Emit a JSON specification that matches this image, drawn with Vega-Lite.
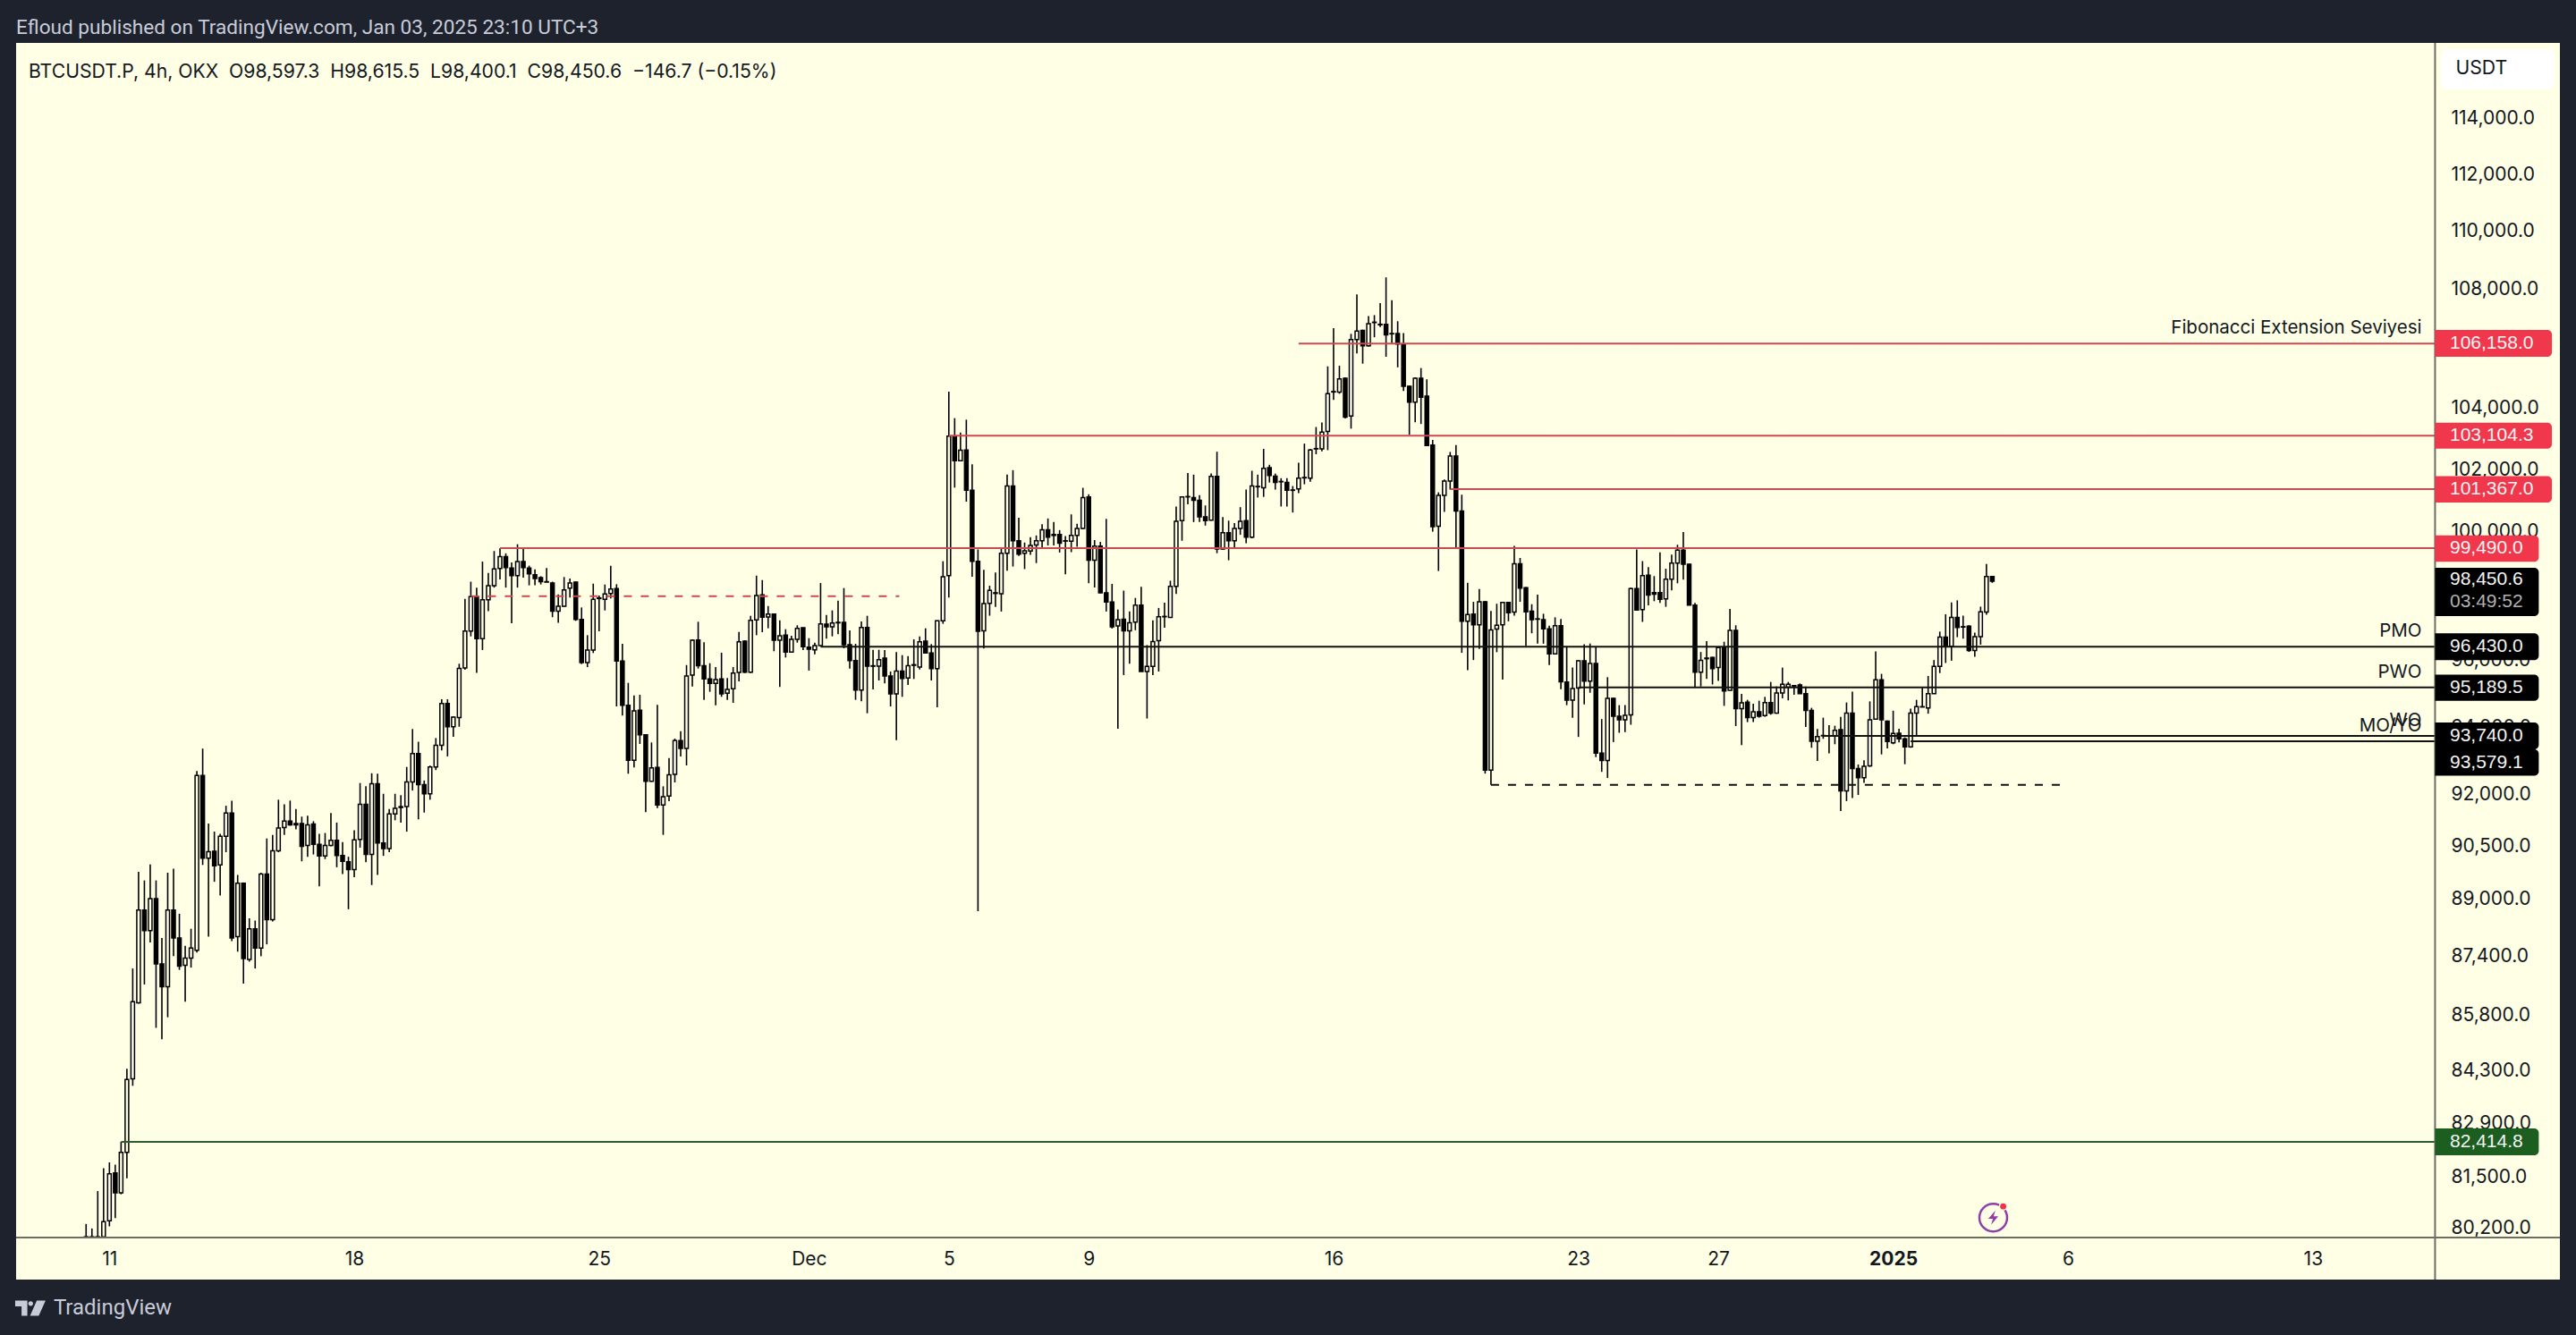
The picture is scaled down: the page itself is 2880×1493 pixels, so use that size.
{
  "$schema": "https://vega.github.io/schema/vega-lite/v6.json",
  "autosize": {"type": "none"},
  "width": 2844,
  "height": 1383,
  "padding": {"left": 18, "top": 48, "right": 18, "bottom": 62},
  "background": "#1e222d",
  "title": {"text": "Efloud published on TradingView.com, Jan 03, 2025 23:10 UTC+3", "anchor": "start", "frame": "group", "offset": 4, "font": "Roboto", "fontSize": 22.6, "fontWeight": "normal", "color": "#c8ccd8"},
  "config": {"font": "Inter", "view": {"fill": "#ffffe6", "stroke": null}},
  "datasets": {
    "candles": [
      {"t":"2024-11-10T08:00Z","o":79970,"h":80295,"l":79950,"c":79960},
      {"t":"2024-11-10T12:00Z","o":79970,"h":80180,"l":79950,"c":79960},
      {"t":"2024-11-10T16:00Z","o":79970,"h":81137,"l":79950,"c":79960},
      {"t":"2024-11-10T20:00Z","o":79970,"h":81725,"l":79950,"c":80352},
      {"t":"2024-11-11T00:00Z","o":80375,"h":81879,"l":80235,"c":81582},
      {"t":"2024-11-11T04:00Z","o":81606,"h":81820,"l":80446,"c":81090},
      {"t":"2024-11-11T08:00Z","o":81090,"h":82414,"l":81055,"c":82141},
      {"t":"2024-11-11T12:00Z","o":82141,"h":84344,"l":81464,"c":84063},
      {"t":"2024-11-11T16:00Z","o":84075,"h":87072,"l":83892,"c":86157},
      {"t":"2024-11-11T20:00Z","o":86132,"h":89784,"l":86107,"c":88699},
      {"t":"2024-11-12T00:00Z","o":88699,"h":89538,"l":86632,"c":88124},
      {"t":"2024-11-12T04:00Z","o":88124,"h":89992,"l":87792,"c":89020},
      {"t":"2024-11-12T08:00Z","o":89020,"h":89538,"l":85449,"c":87198},
      {"t":"2024-11-12T12:00Z","o":87198,"h":87920,"l":85139,"c":86569},
      {"t":"2024-11-12T16:00Z","o":86569,"h":89758,"l":85735,"c":88699},
      {"t":"2024-11-12T20:00Z","o":88699,"h":89875,"l":87412,"c":87920},
      {"t":"2024-11-13T00:00Z","o":87920,"h":88597,"l":87034,"c":87135},
      {"t":"2024-11-13T04:00Z","o":87160,"h":87703,"l":86157,"c":87362},
      {"t":"2024-11-13T08:00Z","o":87362,"h":88175,"l":87097,"c":87639},
      {"t":"2024-11-13T12:00Z","o":87576,"h":92700,"l":87513,"c":92566},
      {"t":"2024-11-13T16:00Z","o":92566,"h":93361,"l":89979,"c":90173},
      {"t":"2024-11-13T20:00Z","o":90173,"h":91171,"l":87958,"c":90357},
      {"t":"2024-11-14T00:00Z","o":90370,"h":90935,"l":89500,"c":89953},
      {"t":"2024-11-14T04:00Z","o":89979,"h":90869,"l":89110,"c":90803},
      {"t":"2024-11-14T08:00Z","o":90803,"h":91684,"l":90343,"c":91473},
      {"t":"2024-11-14T12:00Z","o":91473,"h":91833,"l":87830,"c":87920},
      {"t":"2024-11-14T16:00Z","o":87958,"h":89694,"l":87537,"c":89460},
      {"t":"2024-11-14T20:00Z","o":89460,"h":89480,"l":86657,"c":87349},
      {"t":"2024-11-15T00:00Z","o":87324,"h":88469,"l":87261,"c":88175},
      {"t":"2024-11-15T04:00Z","o":88175,"h":88405,"l":87072,"c":87639},
      {"t":"2024-11-15T08:00Z","o":87639,"h":89758,"l":87412,"c":89720},
      {"t":"2024-11-15T12:00Z","o":89720,"h":90737,"l":87741,"c":88431},
      {"t":"2024-11-15T16:00Z","o":88431,"h":90842,"l":88380,"c":90383},
      {"t":"2024-11-15T20:00Z","o":90383,"h":91860,"l":90343,"c":91040},
      {"t":"2024-11-16T00:00Z","o":91053,"h":91726,"l":90842,"c":91237},
      {"t":"2024-11-16T04:00Z","o":91237,"h":91833,"l":91106,"c":91132},
      {"t":"2024-11-16T08:00Z","o":91171,"h":91592,"l":91000,"c":91132},
      {"t":"2024-11-16T12:00Z","o":91171,"h":91368,"l":90082,"c":90514},
      {"t":"2024-11-16T16:00Z","o":90540,"h":91394,"l":90212,"c":91132},
      {"t":"2024-11-16T20:00Z","o":91158,"h":91237,"l":90278,"c":90566},
      {"t":"2024-11-17T00:00Z","o":90566,"h":90869,"l":89370,"c":90238},
      {"t":"2024-11-17T04:00Z","o":90238,"h":90895,"l":90147,"c":90540},
      {"t":"2024-11-17T08:00Z","o":90540,"h":91473,"l":90514,"c":90685},
      {"t":"2024-11-17T12:00Z","o":90685,"h":91197,"l":89914,"c":90251},
      {"t":"2024-11-17T16:00Z","o":90251,"h":90633,"l":89720,"c":90082},
      {"t":"2024-11-17T20:00Z","o":90069,"h":90212,"l":88724,"c":89849},
      {"t":"2024-11-18T00:00Z","o":89849,"h":90974,"l":89629,"c":90698},
      {"t":"2024-11-18T04:00Z","o":90711,"h":92347,"l":90475,"c":91726},
      {"t":"2024-11-18T08:00Z","o":91726,"h":92253,"l":90056,"c":90278},
      {"t":"2024-11-18T12:00Z","o":90278,"h":92633,"l":89408,"c":92326},
      {"t":"2024-11-18T16:00Z","o":92326,"h":92620,"l":89694,"c":90606},
      {"t":"2024-11-18T20:00Z","o":90606,"h":92033,"l":90238,"c":90448},
      {"t":"2024-11-19T00:00Z","o":90448,"h":91592,"l":90343,"c":91447},
      {"t":"2024-11-19T04:00Z","o":91447,"h":92033,"l":91263,"c":91606},
      {"t":"2024-11-19T08:00Z","o":91633,"h":91993,"l":91197,"c":91659},
      {"t":"2024-11-19T12:00Z","o":91659,"h":92820,"l":90935,"c":92380},
      {"t":"2024-11-19T16:00Z","o":92380,"h":93943,"l":92126,"c":93215},
      {"t":"2024-11-19T20:00Z","o":93215,"h":93564,"l":91289,"c":92300},
      {"t":"2024-11-20T00:00Z","o":92300,"h":92420,"l":91486,"c":92033},
      {"t":"2024-11-20T04:00Z","o":92033,"h":92860,"l":91860,"c":92820},
      {"t":"2024-11-20T08:00Z","o":92820,"h":93673,"l":92727,"c":93456},
      {"t":"2024-11-20T12:00Z","o":93456,"h":94832,"l":93307,"c":94708},
      {"t":"2024-11-20T16:00Z","o":94708,"h":94832,"l":93131,"c":94011},
      {"t":"2024-11-20T20:00Z","o":94011,"h":94323,"l":93713,"c":94296},
      {"t":"2024-11-21T00:00Z","o":94282,"h":95907,"l":94011,"c":95768},
      {"t":"2024-11-21T04:00Z","o":95782,"h":97898,"l":95726,"c":96910},
      {"t":"2024-11-21T08:00Z","o":96910,"h":98436,"l":96743,"c":97969},
      {"t":"2024-11-21T12:00Z","o":97969,"h":98252,"l":95629,"c":96674},
      {"t":"2024-11-21T16:00Z","o":96674,"h":99065,"l":96325,"c":97870},
      {"t":"2024-11-21T20:00Z","o":97870,"h":98709,"l":97517,"c":98308},
      {"t":"2024-11-22T00:00Z","o":98308,"h":99397,"l":98252,"c":98838},
      {"t":"2024-11-22T04:00Z","o":98852,"h":99483,"l":98508,"c":99225},
      {"t":"2024-11-22T08:00Z","o":99225,"h":99325,"l":98252,"c":98880},
      {"t":"2024-11-22T12:00Z","o":98866,"h":99036,"l":97150,"c":98623},
      {"t":"2024-11-22T16:00Z","o":98623,"h":99612,"l":98252,"c":99065},
      {"t":"2024-11-22T20:00Z","o":99065,"h":99468,"l":98565,"c":98880},
      {"t":"2024-11-23T00:00Z","o":98866,"h":98938,"l":98322,"c":98680},
      {"t":"2024-11-23T04:00Z","o":98651,"h":98823,"l":98322,"c":98537},
      {"t":"2024-11-23T08:00Z","o":98565,"h":98608,"l":98350,"c":98436},
      {"t":"2024-11-23T12:00Z","o":98436,"h":98866,"l":98422,"c":98422},
      {"t":"2024-11-23T16:00Z","o":98393,"h":98436,"l":97334,"c":97517},
      {"t":"2024-11-23T20:00Z","o":97517,"h":98040,"l":97164,"c":97672},
      {"t":"2024-11-24T00:00Z","o":97672,"h":98580,"l":97658,"c":98181},
      {"t":"2024-11-24T04:00Z","o":98237,"h":98536,"l":97941,"c":98393},
      {"t":"2024-11-24T08:00Z","o":98422,"h":98441,"l":97221,"c":97267},
      {"t":"2024-11-24T12:00Z","o":97267,"h":97635,"l":95898,"c":95943},
      {"t":"2024-11-24T16:00Z","o":95943,"h":96781,"l":95805,"c":96325},
      {"t":"2024-11-24T20:00Z","o":96325,"h":98375,"l":96234,"c":97884},
      {"t":"2024-11-25T00:00Z","o":97912,"h":98005,"l":96900,"c":97930},
      {"t":"2024-11-25T04:00Z","o":97884,"h":98347,"l":97543,"c":98052},
      {"t":"2024-11-25T08:00Z","o":98070,"h":98937,"l":97912,"c":98209},
      {"t":"2024-11-25T12:00Z","o":98218,"h":98357,"l":94618,"c":95989},
      {"t":"2024-11-25T16:00Z","o":95989,"h":96515,"l":94343,"c":94654},
      {"t":"2024-11-25T20:00Z","o":94654,"h":95328,"l":92620,"c":93014},
      {"t":"2024-11-26T00:00Z","o":93014,"h":94951,"l":92803,"c":94485},
      {"t":"2024-11-26T04:00Z","o":94503,"h":94969,"l":93499,"c":93772},
      {"t":"2024-11-26T08:00Z","o":93772,"h":93790,"l":91497,"c":92401},
      {"t":"2024-11-26T12:00Z","o":92401,"h":93543,"l":92384,"c":92794},
      {"t":"2024-11-26T16:00Z","o":92803,"h":94663,"l":91618,"c":91705},
      {"t":"2024-11-26T20:00Z","o":91705,"h":92250,"l":90842,"c":91947},
      {"t":"2024-11-27T00:00Z","o":91965,"h":93084,"l":91817,"c":92585},
      {"t":"2024-11-27T04:00Z","o":92602,"h":93658,"l":92366,"c":93596},
      {"t":"2024-11-27T08:00Z","o":93596,"h":93879,"l":93128,"c":93367},
      {"t":"2024-11-27T12:00Z","o":93367,"h":95868,"l":92864,"c":95535},
      {"t":"2024-11-27T16:00Z","o":95562,"h":96652,"l":95220,"c":96625},
      {"t":"2024-11-27T20:00Z","o":96634,"h":97193,"l":95760,"c":95850},
      {"t":"2024-11-28T00:00Z","o":95850,"h":96561,"l":94816,"c":95445},
      {"t":"2024-11-28T04:00Z","o":95445,"h":95923,"l":95058,"c":95310},
      {"t":"2024-11-28T08:00Z","o":95310,"h":95805,"l":94654,"c":95427},
      {"t":"2024-11-28T12:00Z","o":95445,"h":96243,"l":94906,"c":94996},
      {"t":"2024-11-28T16:00Z","o":95014,"h":95472,"l":94816,"c":95130},
      {"t":"2024-11-28T20:00Z","o":95148,"h":95805,"l":94726,"c":95625},
      {"t":"2024-11-29T00:00Z","o":95643,"h":96882,"l":95373,"c":96579},
      {"t":"2024-11-29T04:00Z","o":96597,"h":96625,"l":95625,"c":95652},
      {"t":"2024-11-29T08:00Z","o":95652,"h":97377,"l":95625,"c":97239},
      {"t":"2024-11-29T12:00Z","o":97248,"h":98625,"l":96781,"c":98005},
      {"t":"2024-11-29T16:00Z","o":98024,"h":98486,"l":96872,"c":97331},
      {"t":"2024-11-29T20:00Z","o":97340,"h":97680,"l":96992,"c":97432},
      {"t":"2024-11-30T00:00Z","o":97432,"h":97450,"l":96288,"c":96625},
      {"t":"2024-11-30T04:00Z","o":96625,"h":97239,"l":95202,"c":96762},
      {"t":"2024-11-30T08:00Z","o":96781,"h":96964,"l":96098,"c":96261},
      {"t":"2024-11-30T12:00Z","o":96261,"h":96762,"l":96243,"c":96652},
      {"t":"2024-11-30T16:00Z","o":96652,"h":97084,"l":96552,"c":96992},
      {"t":"2024-11-30T20:00Z","o":97010,"h":97020,"l":96325,"c":96424},
      {"t":"2024-12-01T00:00Z","o":96415,"h":96688,"l":95700,"c":96352},
      {"t":"2024-12-01T04:00Z","o":96334,"h":96552,"l":96198,"c":96461},
      {"t":"2024-12-01T08:00Z","o":96461,"h":98394,"l":96443,"c":97130},
      {"t":"2024-12-01T12:00Z","o":97120,"h":97404,"l":96670,"c":97038},
      {"t":"2024-12-01T16:00Z","o":97038,"h":97543,"l":96745,"c":97157},
      {"t":"2024-12-01T20:00Z","o":97160,"h":97847,"l":96808,"c":97175},
      {"t":"2024-12-02T00:00Z","o":97175,"h":98237,"l":96379,"c":96488},
      {"t":"2024-12-02T04:00Z","o":96488,"h":96927,"l":95760,"c":96007},
      {"t":"2024-12-02T08:00Z","o":96007,"h":96515,"l":94816,"c":95112},
      {"t":"2024-12-02T12:00Z","o":95112,"h":97203,"l":94771,"c":97019},
      {"t":"2024-12-02T16:00Z","o":97019,"h":97377,"l":94414,"c":95832},
      {"t":"2024-12-02T20:00Z","o":95832,"h":96334,"l":95130,"c":95845},
      {"t":"2024-12-03T00:00Z","o":95832,"h":96334,"l":95400,"c":96034},
      {"t":"2024-12-03T04:00Z","o":96080,"h":96325,"l":95310,"c":95535},
      {"t":"2024-12-03T08:00Z","o":95535,"h":95670,"l":94618,"c":94996},
      {"t":"2024-12-03T12:00Z","o":94996,"h":96261,"l":93614,"c":95688},
      {"t":"2024-12-03T16:00Z","o":95688,"h":96170,"l":94906,"c":95463},
      {"t":"2024-12-03T20:00Z","o":95472,"h":96143,"l":95265,"c":95850},
      {"t":"2024-12-04T00:00Z","o":95860,"h":96652,"l":95445,"c":95878},
      {"t":"2024-12-04T04:00Z","o":95805,"h":96743,"l":95733,"c":96579},
      {"t":"2024-12-04T08:00Z","o":96597,"h":96992,"l":96216,"c":96234},
      {"t":"2024-12-04T12:00Z","o":96234,"h":96506,"l":95400,"c":95760},
      {"t":"2024-12-04T16:00Z","o":95760,"h":97240,"l":94592,"c":97221},
      {"t":"2024-12-04T20:00Z","o":97221,"h":99077,"l":97130,"c":98588},
      {"t":"2024-12-05T00:00Z","o":98625,"h":104550,"l":97940,"c":103089},
      {"t":"2024-12-05T04:00Z","o":103089,"h":103675,"l":101417,"c":102284},
      {"t":"2024-12-05T08:00Z","o":102284,"h":103207,"l":102265,"c":102624},
      {"t":"2024-12-05T12:00Z","o":102634,"h":103626,"l":100968,"c":101331},
      {"t":"2024-12-05T16:00Z","o":101331,"h":102167,"l":98590,"c":99077},
      {"t":"2024-12-05T20:00Z","o":99077,"h":99450,"l":88670,"c":96900},
      {"t":"2024-12-06T00:00Z","o":96911,"h":98810,"l":96370,"c":97752},
      {"t":"2024-12-06T04:00Z","o":97763,"h":98310,"l":97380,"c":98168},
      {"t":"2024-12-06T08:00Z","o":98090,"h":98720,"l":97650,"c":98070},
      {"t":"2024-12-06T12:00Z","o":98060,"h":99520,"l":97510,"c":99330},
      {"t":"2024-12-06T16:00Z","o":99330,"h":101835,"l":98777,"c":101468},
      {"t":"2024-12-06T20:00Z","o":101468,"h":101980,"l":98910,"c":99722},
      {"t":"2024-12-07T00:00Z","o":99722,"h":100450,"l":99240,"c":99297},
      {"t":"2024-12-07T04:00Z","o":99330,"h":99665,"l":98832,"c":99408},
      {"t":"2024-12-07T08:00Z","o":99396,"h":99833,"l":99275,"c":99575},
      {"t":"2024-12-07T12:00Z","o":99586,"h":99890,"l":99020,"c":99722},
      {"t":"2024-12-07T16:00Z","o":99722,"h":100250,"l":99467,"c":100070},
      {"t":"2024-12-07T20:00Z","o":100070,"h":100430,"l":99575,"c":99833},
      {"t":"2024-12-08T00:00Z","o":99920,"h":100320,"l":99575,"c":99890},
      {"t":"2024-12-08T04:00Z","o":99920,"h":100060,"l":99352,"c":99645},
      {"t":"2024-12-08T08:00Z","o":99711,"h":99868,"l":98665,"c":99722},
      {"t":"2024-12-08T12:00Z","o":99711,"h":100560,"l":99363,"c":99890},
      {"t":"2024-12-08T16:00Z","o":99890,"h":100260,"l":99530,"c":100115},
      {"t":"2024-12-08T20:00Z","o":100115,"h":101410,"l":100090,"c":101097},
      {"t":"2024-12-09T00:00Z","o":101120,"h":101203,"l":98389,"c":99108},
      {"t":"2024-12-09T04:00Z","o":99108,"h":99744,"l":98256,"c":99552},
      {"t":"2024-12-09T08:00Z","o":99552,"h":99685,"l":98080,"c":98092},
      {"t":"2024-12-09T12:00Z","o":98092,"h":100416,"l":97510,"c":97807},
      {"t":"2024-12-09T16:00Z","o":97807,"h":98367,"l":96985,"c":97040},
      {"t":"2024-12-09T20:00Z","o":97063,"h":97565,"l":93948,"c":97260},
      {"t":"2024-12-10T00:00Z","o":97270,"h":98157,"l":95564,"c":96911},
      {"t":"2024-12-10T04:00Z","o":96911,"h":97510,"l":95907,"c":97161},
      {"t":"2024-12-10T08:00Z","o":97183,"h":97930,"l":96933,"c":97708},
      {"t":"2024-12-10T12:00Z","o":97708,"h":98278,"l":95671,"c":95671},
      {"t":"2024-12-10T16:00Z","o":95671,"h":96477,"l":94256,"c":95830},
      {"t":"2024-12-10T20:00Z","o":95830,"h":97237,"l":95564,"c":96587},
      {"t":"2024-12-11T00:00Z","o":96609,"h":97620,"l":95671,"c":97347},
      {"t":"2024-12-11T04:00Z","o":97347,"h":97785,"l":97008,"c":97358},
      {"t":"2024-12-11T08:00Z","o":97325,"h":98465,"l":97314,"c":98289},
      {"t":"2024-12-11T12:00Z","o":98289,"h":100812,"l":98056,"c":100338},
      {"t":"2024-12-11T16:00Z","o":100360,"h":101140,"l":99722,"c":101120},
      {"t":"2024-12-11T20:00Z","o":101120,"h":101890,"l":100880,"c":101130},
      {"t":"2024-12-12T00:00Z","o":101097,"h":101835,"l":100315,"c":101007},
      {"t":"2024-12-12T04:00Z","o":101007,"h":101175,"l":100315,"c":100484},
      {"t":"2024-12-12T08:00Z","o":100484,"h":100845,"l":100204,"c":100360},
      {"t":"2024-12-12T12:00Z","o":100372,"h":101870,"l":100360,"c":101777},
      {"t":"2024-12-12T16:00Z","o":101777,"h":102578,"l":99330,"c":99463},
      {"t":"2024-12-12T20:00Z","o":99463,"h":100472,"l":99440,"c":99978},
      {"t":"2024-12-13T00:00Z","o":99978,"h":100360,"l":99108,"c":99722},
      {"t":"2024-12-13T04:00Z","o":99722,"h":100280,"l":99497,"c":100115},
      {"t":"2024-12-13T08:00Z","o":100115,"h":100790,"l":99912,"c":100338},
      {"t":"2024-12-13T12:00Z","o":100360,"h":101353,"l":99645,"c":99833},
      {"t":"2024-12-13T16:00Z","o":99833,"h":101960,"l":99800,"c":101468},
      {"t":"2024-12-13T20:00Z","o":101445,"h":101835,"l":101100,"c":101455},
      {"t":"2024-12-14T00:00Z","o":101410,"h":102670,"l":101120,"c":102040},
      {"t":"2024-12-14T04:00Z","o":102060,"h":102155,"l":101582,"c":101810},
      {"t":"2024-12-14T08:00Z","o":101787,"h":101870,"l":101353,"c":101582},
      {"t":"2024-12-14T12:00Z","o":101605,"h":101720,"l":100812,"c":101615},
      {"t":"2024-12-14T16:00Z","o":101582,"h":101720,"l":100812,"c":101330},
      {"t":"2024-12-14T20:00Z","o":101330,"h":101468,"l":100620,"c":101340},
      {"t":"2024-12-15T00:00Z","o":101375,"h":102218,"l":101240,"c":101720},
      {"t":"2024-12-15T04:00Z","o":101730,"h":102843,"l":101525,"c":101745},
      {"t":"2024-12-15T08:00Z","o":101720,"h":102670,"l":101605,"c":102635},
      {"t":"2024-12-15T12:00Z","o":102670,"h":103385,"l":102497,"c":102680},
      {"t":"2024-12-15T16:00Z","o":102670,"h":103535,"l":102590,"c":103215},
      {"t":"2024-12-15T20:00Z","o":103242,"h":105393,"l":102629,"c":104482},
      {"t":"2024-12-16T00:00Z","o":104540,"h":106681,"l":104278,"c":104555},
      {"t":"2024-12-16T04:00Z","o":104540,"h":105416,"l":104482,"c":104972},
      {"t":"2024-12-16T08:00Z","o":104995,"h":105030,"l":103665,"c":103710},
      {"t":"2024-12-16T12:00Z","o":103744,"h":106485,"l":103332,"c":106290},
      {"t":"2024-12-16T16:00Z","o":106290,"h":107822,"l":105830,"c":106577},
      {"t":"2024-12-16T20:00Z","o":106600,"h":106625,"l":105484,"c":106083},
      {"t":"2024-12-17T00:00Z","o":106083,"h":107090,"l":106060,"c":106832},
      {"t":"2024-12-17T04:00Z","o":106867,"h":107120,"l":106370,"c":106880},
      {"t":"2024-12-17T08:00Z","o":106810,"h":107530,"l":106715,"c":106790},
      {"t":"2024-12-17T12:00Z","o":106810,"h":108410,"l":105714,"c":106450},
      {"t":"2024-12-17T16:00Z","o":106496,"h":107625,"l":106174,"c":106485},
      {"t":"2024-12-17T20:00Z","o":106496,"h":106913,"l":105360,"c":106140},
      {"t":"2024-12-18T00:00Z","o":106140,"h":106508,"l":104573,"c":104733},
      {"t":"2024-12-18T04:00Z","o":104733,"h":104750,"l":103130,"c":104200},
      {"t":"2024-12-18T08:00Z","o":104200,"h":105030,"l":103540,"c":104995},
      {"t":"2024-12-18T12:00Z","o":104995,"h":105336,"l":103484,"c":104368},
      {"t":"2024-12-18T16:00Z","o":104402,"h":104960,"l":102783,"c":102783},
      {"t":"2024-12-18T20:00Z","o":102795,"h":102963,"l":100010,"c":100172},
      {"t":"2024-12-19T00:00Z","o":100183,"h":101265,"l":98770,"c":101168},
      {"t":"2024-12-19T04:00Z","o":101168,"h":101680,"l":100640,"c":101630},
      {"t":"2024-12-19T08:00Z","o":101630,"h":102570,"l":101355,"c":102440},
      {"t":"2024-12-19T12:00Z","o":102440,"h":102797,"l":99500,"c":100665},
      {"t":"2024-12-19T16:00Z","o":100665,"h":101190,"l":96240,"c":97208},
      {"t":"2024-12-19T20:00Z","o":97208,"h":98400,"l":95710,"c":97418},
      {"t":"2024-12-20T00:00Z","o":97430,"h":97810,"l":96020,"c":97100},
      {"t":"2024-12-20T04:00Z","o":97100,"h":98210,"l":96360,"c":97810},
      {"t":"2024-12-20T08:00Z","o":97810,"h":97840,"l":92624,"c":92725},
      {"t":"2024-12-20T12:00Z","o":92725,"h":97525,"l":92295,"c":96944},
      {"t":"2024-12-20T16:00Z","o":96966,"h":97750,"l":96260,"c":97085},
      {"t":"2024-12-20T20:00Z","o":97100,"h":97810,"l":95430,"c":97789},
      {"t":"2024-12-21T00:00Z","o":97789,"h":97810,"l":97208,"c":97470},
      {"t":"2024-12-21T04:00Z","o":97490,"h":99557,"l":97380,"c":98996},
      {"t":"2024-12-21T08:00Z","o":98996,"h":99180,"l":97810,"c":98236},
      {"t":"2024-12-21T12:00Z","o":98247,"h":98270,"l":96450,"c":97500},
      {"t":"2024-12-21T16:00Z","o":97520,"h":97736,"l":96838,"c":97260},
      {"t":"2024-12-21T20:00Z","o":97283,"h":98030,"l":96520,"c":97272},
      {"t":"2024-12-22T00:00Z","o":97260,"h":97440,"l":96520,"c":96975},
      {"t":"2024-12-22T04:00Z","o":96975,"h":97070,"l":95866,"c":96210},
      {"t":"2024-12-22T08:00Z","o":96210,"h":97330,"l":96190,"c":97070},
      {"t":"2024-12-22T12:00Z","o":97070,"h":97280,"l":95140,"c":95358},
      {"t":"2024-12-22T16:00Z","o":95350,"h":96440,"l":94656,"c":94810},
      {"t":"2024-12-22T20:00Z","o":94810,"h":95790,"l":94280,"c":95160},
      {"t":"2024-12-23T00:00Z","o":95170,"h":96020,"l":93706,"c":96000},
      {"t":"2024-12-23T04:00Z","o":96000,"h":96500,"l":94676,"c":95380},
      {"t":"2024-12-23T08:00Z","o":95380,"h":96525,"l":95030,"c":95915},
      {"t":"2024-12-23T12:00Z","o":95915,"h":96440,"l":93110,"c":93230},
      {"t":"2024-12-23T16:00Z","o":93230,"h":94240,"l":92675,"c":93008},
      {"t":"2024-12-23T20:00Z","o":93008,"h":95500,"l":92495,"c":94860},
      {"t":"2024-12-24T00:00Z","o":94860,"h":94880,"l":93555,"c":94325},
      {"t":"2024-12-24T04:00Z","o":94325,"h":94656,"l":93830,"c":94220},
      {"t":"2024-12-24T08:00Z","o":94220,"h":94656,"l":93850,"c":94350},
      {"t":"2024-12-24T12:00Z","o":94366,"h":98247,"l":94070,"c":98220},
      {"t":"2024-12-24T16:00Z","o":98220,"h":99450,"l":97555,"c":97555},
      {"t":"2024-12-24T20:00Z","o":97570,"h":99080,"l":97190,"c":98628},
      {"t":"2024-12-25T00:00Z","o":98637,"h":98890,"l":97700,"c":98020},
      {"t":"2024-12-25T04:00Z","o":98095,"h":98610,"l":97830,"c":98050},
      {"t":"2024-12-25T08:00Z","o":98095,"h":99358,"l":97775,"c":97890},
      {"t":"2024-12-25T12:00Z","o":97900,"h":98840,"l":97655,"c":98516},
      {"t":"2024-12-25T16:00Z","o":98516,"h":99283,"l":98163,"c":99020},
      {"t":"2024-12-25T20:00Z","o":99020,"h":99595,"l":98386,"c":99424},
      {"t":"2024-12-26T00:00Z","o":99424,"h":100000,"l":98498,"c":98984},
      {"t":"2024-12-26T04:00Z","o":98984,"h":99000,"l":97700,"c":97710},
      {"t":"2024-12-26T08:00Z","o":97710,"h":97775,"l":95175,"c":95653},
      {"t":"2024-12-26T12:00Z","o":95653,"h":96265,"l":95220,"c":96008},
      {"t":"2024-12-26T16:00Z","o":96060,"h":96600,"l":95445,"c":96080},
      {"t":"2024-12-26T20:00Z","o":96100,"h":96120,"l":95280,"c":95762},
      {"t":"2024-12-27T00:00Z","o":95790,"h":96420,"l":95390,"c":96400},
      {"t":"2024-12-27T04:00Z","o":96410,"h":96580,"l":94636,"c":95085},
      {"t":"2024-12-27T08:00Z","o":95105,"h":97589,"l":95087,"c":96930},
      {"t":"2024-12-27T12:00Z","o":96930,"h":97085,"l":94030,"c":94550},
      {"t":"2024-12-27T16:00Z","o":94550,"h":94996,"l":93465,"c":94727},
      {"t":"2024-12-27T20:00Z","o":94745,"h":94816,"l":94148,"c":94281},
      {"t":"2024-12-28T00:00Z","o":94281,"h":94700,"l":94148,"c":94460},
      {"t":"2024-12-28T04:00Z","o":94460,"h":94790,"l":94281,"c":94325},
      {"t":"2024-12-28T08:00Z","o":94343,"h":94905,"l":94307,"c":94736},
      {"t":"2024-12-28T12:00Z","o":94736,"h":95355,"l":94370,"c":94415},
      {"t":"2024-12-28T16:00Z","o":94415,"h":95220,"l":94397,"c":95023},
      {"t":"2024-12-28T20:00Z","o":95023,"h":95790,"l":94861,"c":95285},
      {"t":"2024-12-29T00:00Z","o":95200,"h":95355,"l":94800,"c":95285},
      {"t":"2024-12-29T04:00Z","o":95245,"h":95250,"l":94970,"c":95235},
      {"t":"2024-12-29T08:00Z","o":95265,"h":95310,"l":95000,"c":95000},
      {"t":"2024-12-29T12:00Z","o":95000,"h":95220,"l":94005,"c":94500},
      {"t":"2024-12-29T16:00Z","o":94500,"h":94575,"l":93385,"c":93580},
      {"t":"2024-12-29T20:00Z","o":93580,"h":93945,"l":92995,"c":93715},
      {"t":"2024-12-30T00:00Z","o":93740,"h":94280,"l":93650,"c":93750},
      {"t":"2024-12-30T04:00Z","o":93745,"h":94060,"l":93220,"c":93740},
      {"t":"2024-12-30T08:00Z","o":93745,"h":94040,"l":93490,"c":93905},
      {"t":"2024-12-30T12:00Z","o":93925,"h":94305,"l":91530,"c":92120},
      {"t":"2024-12-30T16:00Z","o":92120,"h":94736,"l":91820,"c":94415},
      {"t":"2024-12-30T20:00Z","o":94415,"h":95060,"l":91910,"c":92775},
      {"t":"2024-12-31T00:00Z","o":92775,"h":92890,"l":92000,"c":92500},
      {"t":"2024-12-31T04:00Z","o":92500,"h":93015,"l":92355,"c":92840},
      {"t":"2024-12-31T08:00Z","o":92850,"h":94770,"l":92820,"c":94220},
      {"t":"2024-12-31T12:00Z","o":94240,"h":96285,"l":94220,"c":95420},
      {"t":"2024-12-31T16:00Z","o":95420,"h":95600,"l":93190,"c":94220},
      {"t":"2024-12-31T20:00Z","o":94175,"h":94200,"l":93365,"c":93570},
      {"t":"2025-01-01T00:00Z","o":93530,"h":94490,"l":93490,"c":93810},
      {"t":"2025-01-01T04:00Z","o":93815,"h":93950,"l":93545,"c":93650},
      {"t":"2025-01-01T08:00Z","o":93650,"h":93695,"l":92900,"c":93410},
      {"t":"2025-01-01T12:00Z","o":93410,"h":94550,"l":93385,"c":94415},
      {"t":"2025-01-01T16:00Z","o":94415,"h":94815,"l":93750,"c":94610},
      {"t":"2025-01-01T20:00Z","o":94600,"h":95175,"l":94590,"c":94610},
      {"t":"2025-01-02T00:00Z","o":94575,"h":95535,"l":94400,"c":95000},
      {"t":"2025-01-02T04:00Z","o":95000,"h":96020,"l":95000,"c":95830},
      {"t":"2025-01-02T08:00Z","o":95830,"h":96890,"l":95625,"c":96720},
      {"t":"2025-01-02T12:00Z","o":96720,"h":97425,"l":95930,"c":96440},
      {"t":"2025-01-02T16:00Z","o":96440,"h":97790,"l":96000,"c":97330},
      {"t":"2025-01-02T20:00Z","o":97330,"h":97855,"l":96720,"c":97020},
      {"t":"2025-01-03T00:00Z","o":97040,"h":97380,"l":96670,"c":97030},
      {"t":"2025-01-03T04:00Z","o":97060,"h":97085,"l":96270,"c":96310},
      {"t":"2025-01-03T08:00Z","o":96310,"h":96860,"l":96120,"c":96735},
      {"t":"2025-01-03T12:00Z","o":96735,"h":97660,"l":96490,"c":97500},
      {"t":"2025-01-03T16:00Z","o":97490,"h":98990,"l":97410,"c":98597},
      {"t":"2025-01-03T20:00Z","o":98597.3,"h":98615.5,"l":98400.1,"c":98450.6}
    ],
    "levels": [
      {"price":106158,"start":"2024-12-15T00:00Z","end":"2025-01-16T11:50Z","kind":"resistance","style":"solid"},
      {"price":103104.3,"start":"2024-12-05T00:00Z","end":"2025-01-16T11:50Z","kind":"resistance","style":"solid"},
      {"price":101367,"start":"2024-12-19T08:00Z","end":"2025-01-16T11:50Z","kind":"resistance","style":"solid"},
      {"price":99490,"start":"2024-11-22T04:00Z","end":"2025-01-16T11:50Z","kind":"resistance","style":"solid"},
      {"price":97984,"start":"2024-11-21T08:00Z","end":"2024-12-03T14:00Z","kind":"resistance","style":"dashed"},
      {"price":96430,"start":"2024-12-01T08:00Z","end":"2025-01-16T11:50Z","kind":"open","style":"solid"},
      {"price":95189.5,"start":"2024-12-23T00:00Z","end":"2025-01-16T11:50Z","kind":"open","style":"solid"},
      {"price":93740,"start":"2024-12-30T00:00Z","end":"2025-01-16T11:50Z","kind":"open","style":"solid"},
      {"price":93579.1,"start":"2025-01-01T12:00Z","end":"2025-01-16T11:50Z","kind":"open","style":"solid"},
      {"price":92293,"start":"2024-12-20T12:00Z","end":"2025-01-05T20:40Z","kind":"open","style":"dashed"},
      {"price":82414.8,"start":"2024-11-11T08:00Z","end":"2025-01-16T11:50Z","kind":"support","style":"solid"}
    ],
    "notes": [
      {"text":"Fibonacci Extension Seviyesi","t":"2025-01-16T02:40Z","price":106677},
      {"text":"PMO","t":"2025-01-16T02:40Z","price":96898},
      {"text":"PWO","t":"2025-01-16T02:40Z","price":95642},
      {"text":"MO/YO","t":"2025-01-16T02:40Z","price":94028},
      {"text":"WO","t":"2025-01-16T02:40Z","price":94188}
    ],
    "tags": [
      {"hi":106616,"lo":105713,"start":"2025-01-16T11:50Z","end":"2025-01-19T20:00Z","kind":"resistance"},
      {"hi":103526,"lo":102678,"start":"2025-01-16T11:50Z","end":"2025-01-19T20:00Z","kind":"resistance"},
      {"hi":101788,"lo":100937,"start":"2025-01-16T11:50Z","end":"2025-01-19T20:00Z","kind":"resistance"},
      {"hi":99895,"lo":99062,"start":"2025-01-16T11:50Z","end":"2025-01-19T11:00Z","kind":"resistance"},
      {"hi":98869,"lo":97369,"start":"2025-01-16T11:50Z","end":"2025-01-19T11:00Z","kind":"open"},
      {"hi":96841,"lo":96021,"start":"2025-01-16T11:50Z","end":"2025-01-19T11:00Z","kind":"open"},
      {"hi":95579,"lo":94786,"start":"2025-01-16T11:50Z","end":"2025-01-19T11:00Z","kind":"open"},
      {"hi":94134,"lo":93337,"start":"2025-01-16T11:50Z","end":"2025-01-19T11:00Z","kind":"open"},
      {"hi":93337,"lo":92562,"start":"2025-01-16T11:50Z","end":"2025-01-19T11:00Z","kind":"open"},
      {"hi":82766,"lo":82063,"start":"2025-01-16T11:50Z","end":"2025-01-19T11:00Z","kind":"support"}
    ],
    "tagText": [
      {"label":"106,158.0","t":"2025-01-16T22:00Z","price":106158},
      {"label":"103,104.3","t":"2025-01-16T22:00Z","price":103104.3},
      {"label":"101,367.0","t":"2025-01-16T22:00Z","price":101367},
      {"label":"99,490.0","t":"2025-01-16T22:00Z","price":99490},
      {"label":"98,450.6","t":"2025-01-16T22:00Z","price":98505},
      {"label":"03:49:52","t":"2025-01-16T22:00Z","price":97810},
      {"label":"96,430.0","t":"2025-01-16T22:00Z","price":96430},
      {"label":"95,189.5","t":"2025-01-16T22:00Z","price":95189.5},
      {"label":"93,740.0","t":"2025-01-16T22:00Z","price":93740},
      {"label":"93,579.1","t":"2025-01-16T22:00Z","price":92950},
      {"label":"82,414.8","t":"2025-01-16T22:00Z","price":82414.8}
    ]
  },
  "layer": [
    {
      "data": {"name": "candles"},
      "mark": {"type": "rule", "stroke": "#000000", "strokeWidth": 1.6},
      "encoding": {
        "x": {
          "field": "t",
          "type": "temporal",
          "scale": {"type": "utc", "domain": ["2024-11-08T07:58Z", "2025-01-20T01:30Z"], "nice": false, "padding": 0},
          "axis": {
            "title": null,
            "orient": "bottom",
            "values": ["2024-11-11T00:00Z", "2024-11-18T00:00Z", "2024-11-25T00:00Z", "2024-12-01T00:00Z", "2024-12-05T00:00Z", "2024-12-09T00:00Z", "2024-12-16T00:00Z", "2024-12-23T00:00Z", "2024-12-27T00:00Z", "2025-01-01T00:00Z", "2025-01-06T00:00Z", "2025-01-13T00:00Z"],
            "labelExpr": "utcdate(datum.value) == 1 ? (utcmonth(datum.value) == 0 ? '2025' : 'Dec') : '' + utcdate(datum.value)",
            "labelFontWeight": {"condition": {"test": "utcmonth(datum.value) == 0 && utcdate(datum.value) == 1", "value": "bold"}, "value": "normal"},
            "labelFontSize": 21,
            "labelColor": "#131722",
            "labelPadding": -23,
            "labelBaseline": "middle",
            "labelFlush": false,
            "labelOverlap": false,
            "ticks": false,
            "domain": false,
            "grid": false
          }
        },
        "y": {
          "field": "l",
          "type": "quantitative",
          "scale": {"type": "log", "domain": [78892, 116778], "nice": false, "padding": 0},
          "axis": {
            "title": null,
            "orient": "right",
            "values": [114000, 112000, 110000, 108000, 104000, 102000, 100000, 96000, 94000, 92000, 90500, 89000, 87400, 85800, 84300, 82900, 81500, 80200],
            "format": ",.1f",
            "labelFontSize": 21,
            "labelColor": "#131722",
            "labelAlign": "left",
            "labelPadding": -122,
            "labelFlush": false,
            "labelOverlap": false,
            "ticks": false,
            "domain": false,
            "grid": false
          }
        },
        "y2": {"field": "h"}
      }
    },
    {
      "data": {"name": "candles"},
      "mark": {"type": "bar", "size": 4, "stroke": "#000000", "strokeWidth": 1.5},
      "encoding": {
        "x": {"field": "t", "type": "temporal"},
        "y": {"field": "o", "type": "quantitative"},
        "y2": {"field": "c"},
        "fill": {"condition": {"test": "datum.c >= datum.o", "value": "#ffffe6"}, "value": "#000000"}
      }
    },
    {
      "data": {"name": "levels"},
      "mark": {"type": "rule", "strokeWidth": 2},
      "encoding": {
        "x": {"field": "start", "type": "temporal"},
        "x2": {"field": "end"},
        "y": {"field": "price", "type": "quantitative"},
        "stroke": {"field": "kind", "type": "nominal", "legend": null, "scale": {"domain": ["resistance", "open", "support"], "range": ["#c94a50", "#111111", "#2e5c2e"]}},
        "strokeDash": {"field": "style", "type": "nominal", "legend": null, "scale": {"domain": ["solid", "dashed"], "range": [[1, 0], [9, 10]]}}
      }
    },
    {
      "data": {"values": [{"t": "2025-01-16T11:50Z"}]},
      "mark": {"type": "rule", "stroke": "#6c6e66", "strokeWidth": 2},
      "encoding": {"x": {"field": "t", "type": "temporal"}}
    },
    {
      "data": {"values": [{"price": 79950}]},
      "mark": {"type": "rule", "stroke": "#6c6e66", "strokeWidth": 2},
      "encoding": {"y": {"field": "price", "type": "quantitative"}}
    },
    {
      "data": {"name": "notes"},
      "mark": {"type": "text", "align": "right", "baseline": "middle", "font": "Inter", "fontSize": 20.5, "color": "#131722"},
      "encoding": {
        "x": {"field": "t", "type": "temporal"},
        "y": {"field": "price", "type": "quantitative"},
        "text": {"field": "text"}
      }
    },
    {
      "data": {"name": "tags"},
      "mark": {"type": "rect", "cornerRadiusTopRight": 5, "cornerRadiusBottomRight": 5},
      "encoding": {
        "x": {"field": "start", "type": "temporal"},
        "x2": {"field": "end"},
        "y": {"field": "hi", "type": "quantitative"},
        "y2": {"field": "lo"},
        "fill": {"field": "kind", "type": "nominal", "legend": null, "scale": {"domain": ["resistance", "open", "support"], "range": ["#f0374c", "#000000", "#1b5e20"]}}
      }
    },
    {
      "data": {"name": "tagText"},
      "mark": {"type": "text", "align": "left", "baseline": "middle", "font": "sans-serif", "fontSize": 21},
      "encoding": {
        "x": {"field": "t", "type": "temporal"},
        "y": {"field": "price", "type": "quantitative"},
        "text": {"field": "label"},
        "color": {"condition": {"test": "datum.label == '03:49:52'", "value": "#b0b0b0"}, "value": "#f4f4f4"}
      }
    },
    {
      "data": {"values": [{"start": "2025-01-16T16:00Z", "end": "2025-01-19T21:30Z", "hi": 116548, "lo": 115070}]},
      "mark": {"type": "rect", "fill": "#ffffff", "cornerRadius": 7},
      "encoding": {
        "x": {"field": "start", "type": "temporal"},
        "x2": {"field": "end"},
        "y": {"field": "hi", "type": "quantitative"},
        "y2": {"field": "lo"}
      }
    },
    {
      "data": {"values": [
        {"text": "USDT", "t": "2025-01-17T02:00Z", "price": 115810},
        {"text": "BTCUSDT.P, 4h, OKX\u00a0\u00a0O98,597.3\u00a0\u00a0H98,615.5\u00a0\u00a0L98,400.1\u00a0\u00a0C98,450.6\u00a0\u00a0\u2212146.7 (\u22120.15%)", "t": "2024-11-08T16:32Z", "price": 115690}
      ]},
      "mark": {"type": "text", "align": "left", "baseline": "middle", "fontSize": 21.2, "color": "#131722"},
      "encoding": {
        "x": {"field": "t", "type": "temporal"},
        "y": {"field": "price", "type": "quantitative"},
        "text": {"field": "text"}
      }
    },
    {
      "data": {"values": [{"text": "TradingView", "t": "2024-11-09T09:42Z", "price": 78176}]},
      "mark": {"type": "text", "align": "left", "baseline": "middle", "fontSize": 24, "font": "Roboto", "color": "#c8ccd8"},
      "encoding": {
        "x": {"field": "t", "type": "temporal"},
        "y": {"field": "price", "type": "quantitative"},
        "text": {"field": "text"}
      }
    },
    {
      "data": {"values": [{"t": "2024-11-08T17:46Z", "price": 78180}]},
      "mark": {"type": "point", "filled": true, "fill": "#c8ccd8", "stroke": null, "opacity": 1, "size": 1156, "shape": "M-1,-.5 H-.2 V.5 H-.58 V-.12 H-1 Z M-.14,-.3 A.16,.16 0 1 1 .18,-.3 A.16,.16 0 1 1 -.14,-.3 Z M.42,-.5 H1 L.55,.5 H-.02 Z"},
      "encoding": {
        "x": {"field": "t", "type": "temporal"},
        "y": {"field": "price", "type": "quantitative"}
      }
    },
    {
      "data": {"values": [{"t": "2025-01-03T20:40Z", "price": 80457}]},
      "mark": {"type": "point", "filled": false, "stroke": "#8e3fa8", "strokeWidth": 2.5, "opacity": 1, "size": 962, "shape": "circle"},
      "encoding": {
        "x": {"field": "t", "type": "temporal"},
        "y": {"field": "price", "type": "quantitative"}
      }
    },
    {
      "data": {"values": [{"t": "2025-01-03T20:40Z", "price": 80457}]},
      "mark": {"type": "point", "filled": true, "fill": "#8e3fa8", "stroke": null, "opacity": 1, "size": 256, "shape": "M.3,-1 L-.7,.15 L-.05,.15 L-.3,1 L.7,-.2 L.05,-.2 Z"},
      "encoding": {
        "x": {"field": "t", "type": "temporal"},
        "y": {"field": "price", "type": "quantitative"}
      }
    },
    {
      "data": {"values": [{"t": "2025-01-04T03:30Z", "price": 80745}]},
      "mark": {"type": "point", "filled": true, "fill": "#f0334a", "stroke": "#ffffe6", "strokeWidth": 1.5, "opacity": 1, "size": 70, "shape": "circle"},
      "encoding": {
        "x": {"field": "t", "type": "temporal"},
        "y": {"field": "price", "type": "quantitative"}
      }
    }
  ]
}
